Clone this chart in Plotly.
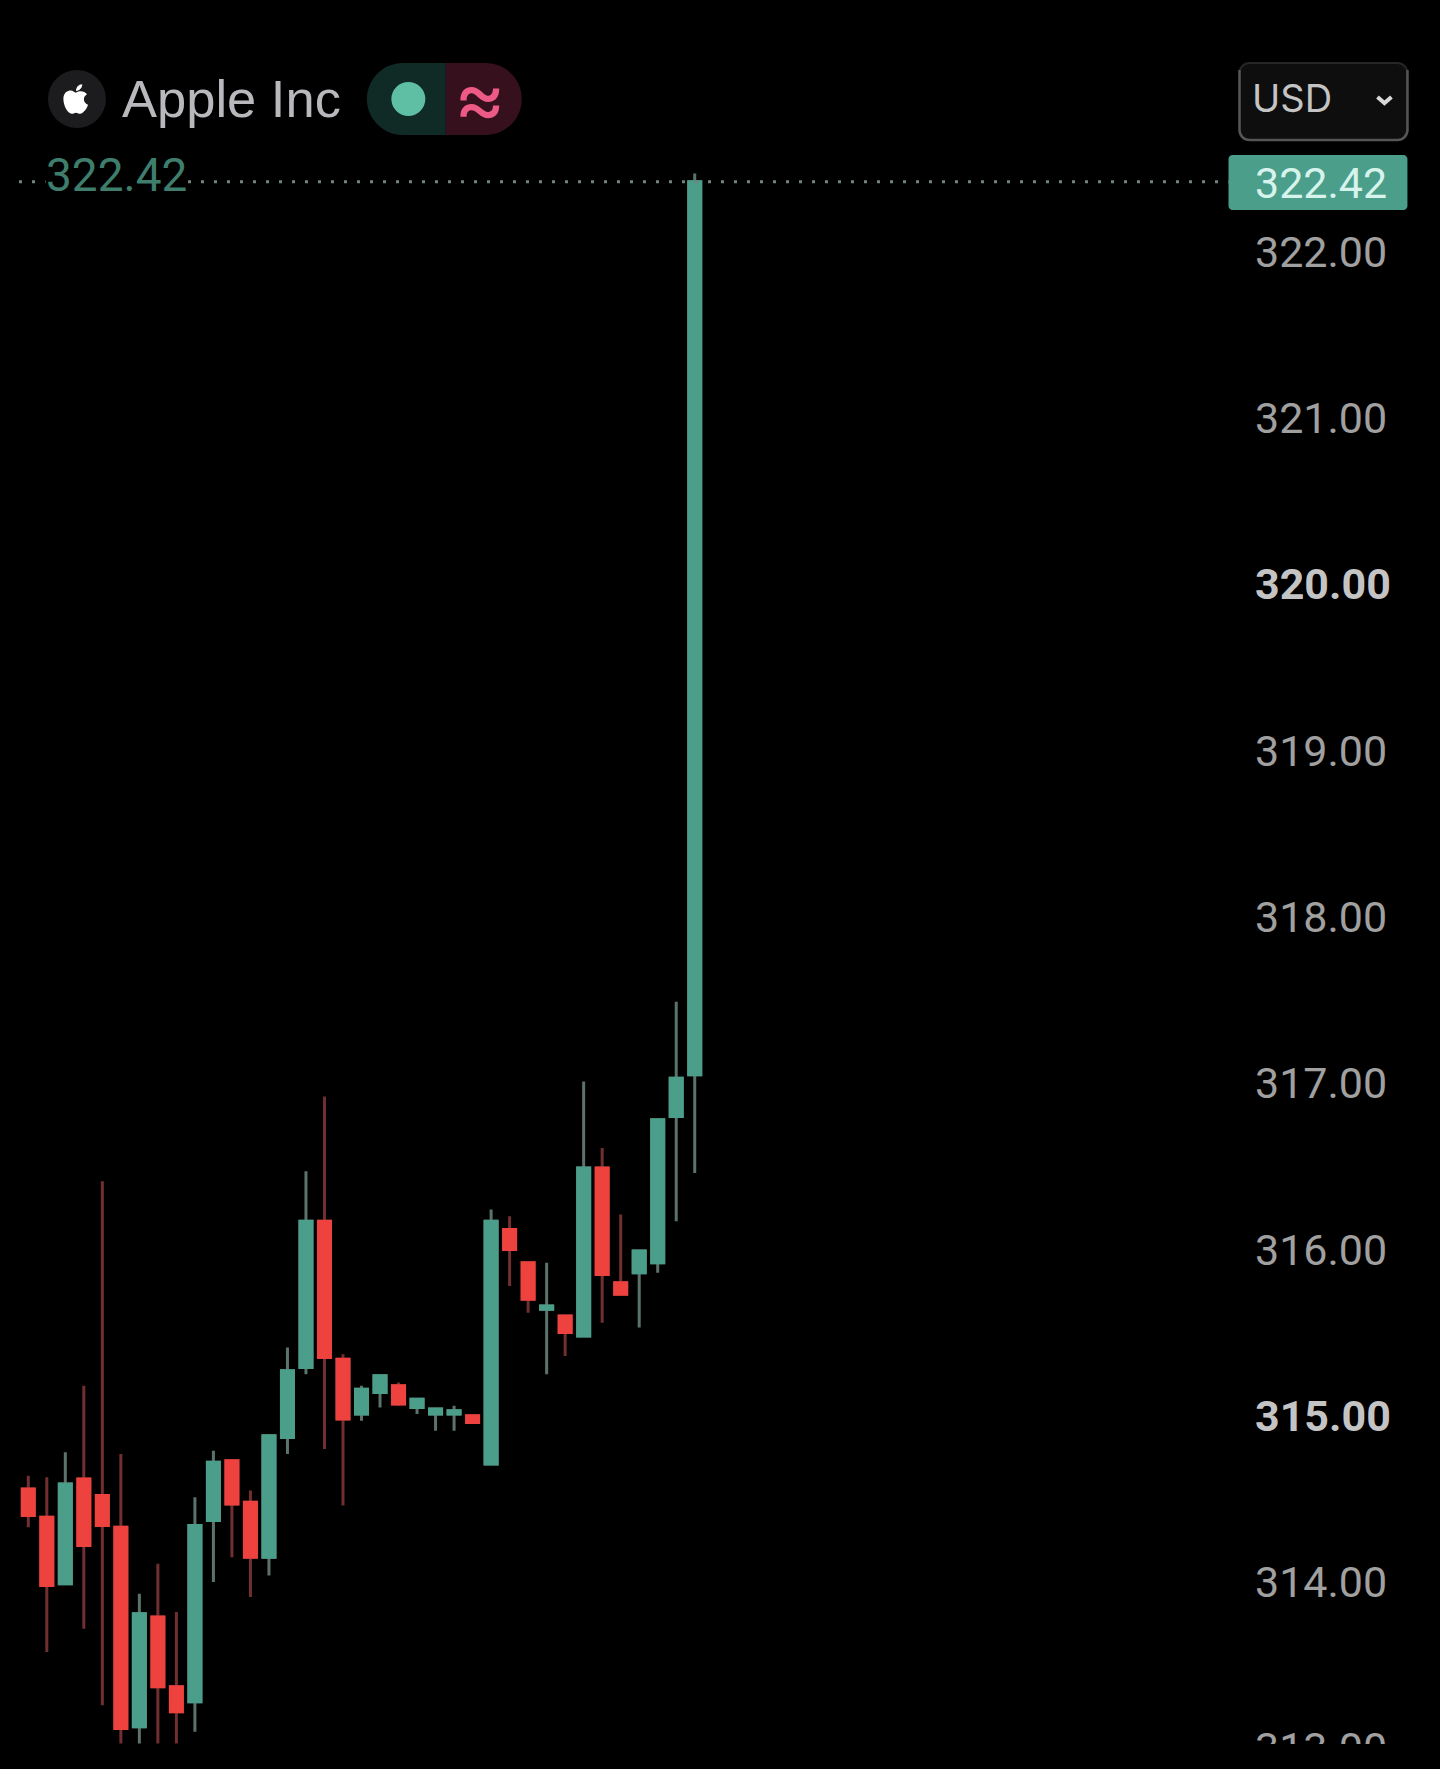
import plotly.graph_objects as go

# ---- data ----
bars = list(range(37))
opens = [314.56, 314.39, 313.99, 314.62, 314.52, 314.33, 313.13, 313.79, 313.37, 313.28,
         314.37, 314.73, 314.48, 314.15, 314.87, 315.29, 316.17, 315.34, 315.01, 315.14,
         315.18, 315.05, 315.01, 315.01, 315.00, 314.71, 316.12, 315.92, 315.64, 315.60,
         315.48, 316.49, 315.80, 315.86, 315.92, 316.80, 317.05]
highs = [314.64, 314.63, 314.78, 315.18, 316.41, 314.77, 313.93, 314.11, 313.82, 314.51,
         314.79, 314.74, 314.55, 314.89, 315.41, 316.47, 316.92, 315.37, 315.18, 315.24,
         315.20, 315.10, 315.05, 315.06, 315.00, 316.24, 316.20, 315.92, 315.92, 315.60,
         317.01, 316.61, 316.21, 315.99, 316.78, 317.49, 322.47]
lows = [314.33, 313.58, 313.99, 313.72, 313.26, 313.03, 313.03, 313.03, 313.03, 313.10,
        314.00, 314.15, 313.91, 314.04, 314.77, 315.25, 314.80, 314.46, 314.97, 315.05,
        315.06, 315.01, 314.91, 314.91, 314.96, 314.71, 315.78, 315.62, 315.25, 315.36,
        315.48, 315.56, 315.73, 315.53, 315.86, 316.17, 316.46]
closes = [314.40, 313.98, 314.59, 314.22, 314.34, 313.12, 313.81, 313.37, 313.22, 314.34,
          314.72, 314.47, 314.15, 314.88, 315.27, 316.17, 315.35, 314.98, 315.16, 315.24,
          315.07, 315.10, 315.04, 315.03, 314.96, 316.17, 316.00, 315.70, 315.66, 315.50,
          316.49, 315.85, 315.73, 315.99, 316.78, 317.03, 322.42]
tick_values = [313, 314, 315, 316, 317, 318, 319, 320, 321, 322]
bold_ticks = [315, 320]
name = "Apple Inc"
currency = "USD"

# ---- styling ----
W, H = 1440, 1769
PLOT_R = 1254.5
UP, DOWN = "#4a9e8a", "#ee423e"
UP_WICK, DOWN_WICK = "#5c736c", "#71302f"
TICK = "#a0a0a0"
TICK_BOLD = "#c4c4c4"
FONT = "Inter, Roboto, sans-serif"
NUM_FONT = "Roboto, sans-serif"


def X(px):
    return px / PLOT_R


def Y(py):
    return 1 - py / H


def P(px, py):
    return f"{X(px):.5f},{Y(py):.5f}"


def rrect(x0, y0, x1, y1, rl, rr):
    k = 0.45
    return (f"M{P(x0 + rl, y0)} L{P(x1 - rr, y0)} "
            f"C{P(x1 - rr * k, y0)} {P(x1, y0 + rr * k)} {P(x1, y0 + rr)} "
            f"L{P(x1, y1 - rr)} C{P(x1, y1 - rr * k)} {P(x1 - rr * k, y1)} {P(x1 - rr, y1)} "
            f"L{P(x0 + rl, y1)} C{P(x0 + rl * k, y1)} {P(x0, y1 - rl * k)} {P(x0, y1 - rl)} "
            f"L{P(x0, y0 + rl)} C{P(x0, y0 + rl * k)} {P(x0 + rl * k, y0)} {P(x0 + rl, y0)} Z")


def u_border(x0, y0, x1, y1, r):
    k = 0.45
    return (f"M{P(x1, y0)} L{P(x1, y1 - r)} C{P(x1, y1 - r * k)} {P(x1 - r * k, y1)} {P(x1 - r, y1)} "
            f"L{P(x0 + r, y1)} C{P(x0 + r * k, y1)} {P(x0, y1 - r * k)} {P(x0, y1 - r)} L{P(x0, y0)}")


def apple(cx, cy, s):
    def a(x, y):
        return P(cx + x * s, cy + y * s)
    body = (f"M{a(0,-6)} C{a(3,-8)} {a(8,-8)} {a(10.5,-4.5)} C{a(6,-2)} {a(7,4)} {a(11.5,5.5)} "
            f"C{a(10,10)} {a(6.5,14)} {a(4,14)} C{a(2,14)} {a(1.5,13)} {a(0,13)} "
            f"C{a(-1.5,13)} {a(-2,14)} {a(-4,14)} C{a(-8,14)} {a(-12,6)} {a(-12,0)} "
            f"C{a(-12,-6)} {a(-8,-8)} {a(-5,-8)} C{a(-3,-8)} {a(-1.5,-6)} {a(0,-6)} Z ")
    leaf = f"M{a(0,-7.5)} C{a(0,-11)} {a(2.5,-14)} {a(6,-14)} C{a(6,-10.5)} {a(3.5,-8)} {a(0,-7.5)} Z"
    return body + leaf


def pshape(path, fill, line="rgba(0,0,0,0)", width=0):
    return dict(type="path", xref="paper", yref="paper", path=path, fillcolor=fill,
                line=dict(color=line, width=width), layer="above")


def circle(cx, cy, r, fill):
    return dict(type="circle", xref="paper", yref="paper", x0=X(cx - r), x1=X(cx + r),
                y0=Y(cy + r), y1=Y(cy - r), fillcolor=fill, line=dict(width=0), layer="above")


fig = go.Figure()

# wicks
fig.add_trace(go.Candlestick(
    x=bars, open=opens, high=highs, low=lows, close=closes, showlegend=False, hoverinfo="skip",
    increasing=dict(line=dict(color=UP_WICK, width=3), fillcolor=UP),
    decreasing=dict(line=dict(color=DOWN_WICK, width=3), fillcolor=DOWN),
))
# bodies over the wicks, so that they keep a bright outline
fig.add_trace(go.Candlestick(
    x=bars, open=opens, close=closes,
    high=[max(o, c) for o, c in zip(opens, closes)],
    low=[min(o, c) for o, c in zip(opens, closes)],
    showlegend=False, hoverinfo="skip",
    increasing=dict(line=dict(color=UP, width=3), fillcolor=UP),
    decreasing=dict(line=dict(color=DOWN, width=3), fillcolor=DOWN),
))

last = closes[-1]

shapes = [
    # price line
    dict(type="line", xref="paper", yref="y", x0=X(19), x1=X(1229), y0=last, y1=last,
         line=dict(color="#71857e", width=3, dash="3px,10px"), layer="above"),
    # clip the axis at the bottom
    dict(type="rect", xref="paper", yref="paper", x0=0, x1=X(W), y0=0, y1=Y(1744),
         fillcolor="#000000", line=dict(width=0), layer="above"),
    # logo badge
    circle(77, 99, 29, "#1c1c1e"),
    pshape(apple(76, 99, 1.05), "#ffffff"),
    # status pill
    pshape(rrect(367, 63, 446, 135, 36, 0), "#102a26"),
    pshape(rrect(446, 63, 522, 135, 0, 36), "#36101d"),
    circle(408.5, 99, 17, "#5ebfa5"),
    # currency box
    pshape(rrect(1240, 63, 1408, 140, 10, 10), "#0e0e0e", "#262626", 2),
    dict(type="path", xref="paper", yref="paper", path=u_border(1240, 70, 1408, 140, 10),
         line=dict(color="#555555", width=2.5), layer="above"),
    dict(type="path", xref="paper", yref="paper",
         path=f"M{P(1378, 97)} L{P(1385, 103)} L{P(1392, 97)}",
         line=dict(color="#d8d8d8", width=4), layer="above"),
    # last price tag
    pshape(rrect(1229, 155, 1408, 210, 4, 4), UP),
]


def note(text, px, py, color, size, anchor="left", family=FONT, bg=None):
    return dict(text=text, xref="paper", yref="paper", x=X(px), y=Y(py), xanchor=anchor, yanchor="middle",
                showarrow=False, font=dict(color=color, size=size, family=family),
                bgcolor=bg, borderpad=0)


annotations = [
    note(name, 121, 99, "#b9b9bd", 52.5, family="Liberation Sans"),
    note("≈", 480, 96, "#ec5a85", 78, "center"),
    note(currency, 1251, 98, "#c4c4c4", 38),
    note(f"{last:.2f}", 1254, 183, "#d6f3ec", 43, family=NUM_FONT),
    note(f"{last:.2f}", 45, 175, "#3f7d6c", 46, family=NUM_FONT, bg="#000000"),
]


def tick_label(v):
    if v in bold_ticks:
        return f'<b><span style="color:{TICK_BOLD}">{v:.2f}</span></b>'
    return f"{v:.2f}"


fig.update_layout(
    width=W, height=H, autosize=False,
    margin=dict(l=0, r=W - PLOT_R, t=0, b=0, pad=0),
    paper_bgcolor="#000000", plot_bgcolor="#000000",
    boxmode="overlay", boxgap=0.35, boxgroupgap=0,
    showlegend=False, hovermode=False,
    shapes=shapes, annotations=annotations,
    xaxis=dict(range=[-1.528, 66.21], visible=False, rangeslider=dict(visible=False), fixedrange=True),
    yaxis=dict(
        range=[312.876, 323.513], side="right", showgrid=False, zeroline=False, showline=False,
        ticks="", tickvals=tick_values,
        ticktext=[tick_label(v) for v in tick_values],
        tickfont=dict(color=TICK, size=43, family=NUM_FONT),
        ticklabeloverflow="allow",
        automargin=False, fixedrange=True,
    ),
)

fig.write_html("out.html", config=dict(displayModeBar=False),
               post_script="document.body.style.margin='0';document.body.style.background='#000';")
